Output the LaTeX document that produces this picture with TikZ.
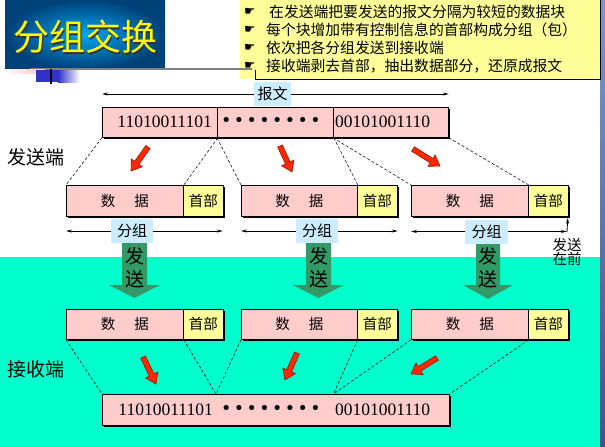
\documentclass[tikz,border=0pt]{standalone}
\usepackage{fontspec}
\newfontfamily\cjk{Noto Sans CJK SC}
\newfontfamily\tms{Liberation Serif}
\newfontfamily\dvs{DejaVu Sans}
\usetikzlibrary{arrows.meta,shadows,calc}

\definecolor{msgpink}{RGB}{255,204,204}
\definecolor{hdryellow}{RGB}{255,255,153}
\definecolor{tealbg}{RGB}{0,255,204}
\definecolor{lblblue}{RGB}{204,236,255}
\definecolor{sendgreen}{RGB}{51,153,102}
\definecolor{arrred}{RGB}{255,40,0}
\definecolor{arrdark}{RGB}{150,20,0}
\definecolor{titleyellow}{RGB}{255,255,0}
\definecolor{noteyellow}{RGB}{255,255,153}
\definecolor{titlein}{RGB}{0,165,240}
\definecolor{titleout}{RGB}{0,65,120}
\definecolor{stripetop}{RGB}{125,150,195}
\definecolor{stripebot}{RGB}{60,85,135}
\definecolor{decoblue}{RGB}{50,50,200}
\definecolor{decopink}{RGB}{255,190,190}

\newcommand\fsz[1]{\fontsize{#1pt}{#1pt}\selectfont}
\newcommand\dotgap{\hspace{2.4pt}}
\newcommand\bitdots{•\dotgap•\dotgap•\dotgap•\dotgap•\dotgap•\dotgap•\dotgap•}

\tikzset{
  boxshadow/.style={drop shadow={shadow xshift=2pt,shadow yshift=-2pt,fill=black,opacity=1}},
  cellbox/.style={draw=black,line width=0.8pt,inner sep=0pt,anchor=north west,boxshadow},
  msgcell/.style={cellbox,fill=msgpink,minimum height=30pt},
  datacell/.style={cellbox,fill=msgpink,font=\cjk\fsz{14.5}},
  hdrcell/.style={cellbox,fill=hdryellow,minimum width=40pt,font=\cjk\fsz{14.5}},
  bits/.style={inner sep=0pt,font=\tms\fsz{17.5}},
  dotrow/.style={inner sep=0pt,font=\dvs\fsz{17.5}},
  tag/.style={fill=lblblue,inner sep=0pt,minimum height=24pt,font=\cjk\fsz{15}},
  side/.style={inner sep=0pt,anchor=west,font=\cjk\fsz{19}},
  note/.style={inner sep=0pt,anchor=west,font=\cjk\fsz{14.8}},
  hand/.style={inner sep=0pt,anchor=west,font=\dvs\fsz{12.5}},
  split/.style={dashed,dash pattern=on 3pt off 2pt,line width=0.6pt,black!90},
  span/.style={line width=0.8pt,-{Stealth[length=6pt,width=3pt]}},
  upmark/.style={line width=0.8pt,-{Stealth[length=6pt,width=3pt]}},
  sendarrow/.style={fill=sendgreen},
  sendtext/.style={inner sep=0pt,align=center,font=\cjk\fontsize{19pt}{23pt}\selectfont},
  pics/redarrow/.style={code={
    \filldraw[fill=arrred,draw=arrdark,line width=0.6pt]
      (0,-2.6) -- (#1-10,-2.6) -- (#1-10,-6.8) -- (#1,0) -- (#1-10,6.8) -- (#1-10,2.6) -- (0,2.6) -- cycle;
  }}
}

\begin{document}
\begin{tikzpicture}[x=1pt,y=-1pt]
\useasboundingbox (0,0) rectangle (605,447);

% background: white upper part, teal lower part, blue stripe at the right edge
\fill[white] (0,0) rectangle (605,447);
\fill[tealbg] (0,257) rectangle (600,447);
\shade[top color=stripetop,bottom color=stripebot] (600,0) rectangle (605,447);

% title block with a shadowed heading
\shade[inner color=titlein,outer color=titleout] (5,0) rectangle (165,69);
\node[text=black!80,font=\cjk\fsz{36},inner sep=0pt] (titleshadow) at (86.5,38.5) {分组交换};
\node[text=titleyellow,font=\cjk\fsz{36},inner sep=0pt] (title) at (85,37) {分组交换};

% summary box
\fill[noteyellow] (240,0) rectangle (600,79);
\draw[line width=1pt] (255,70) -- (255,79.5) -- (600.5,79.5) -- (600.5,0);

% ornaments below the title
\draw[gray,line width=2pt] (30,69) -- (252,69);
\shade[left color=white,right color=decopink] (5,69) rectangle (45,73);
\fill[decoblue] (36,70) rectangle (58,82);
\shade[left color=decoblue,right color=white] (58,70) rectangle (80,82);
\draw[line width=1.3pt] (51,69) -- (51,84);

% summary lines
\node[hand] (h1) at (244,12) {☛};
\node[hand] (h2) at (244,30) {☛};
\node[hand] (h3) at (244,48) {☛};
\node[hand] (h4) at (244,66) {☛};
\node[note] (n1) at (269,12) {在发送端把要发送的报文分隔为较短的数据块};
\node[note] (n2) at (266,30) {每个块增加带有控制信息的首部构成分组（包）};
\node[note] (n3) at (266,48) {依次把各分组发送到接收端};
\node[note] (n4) at (266,66) {接收端剥去首部，抽出数据部分，还原成报文};

% side labels
\node[side] (sender) at (7,157) {发送端};
\node[side] (receiver) at (7,369) {接收端};

% original message
\node[msgcell,minimum width=115pt] (m1) at (102,107) {};
\node[msgcell,minimum width=116pt] (m2) at (217,107) {};
\node[msgcell,minimum width=115pt] (m3) at (333,107) {};
\node[bits,anchor=east] (m1t) at (212,122) {11010011101};
\node[dotrow,anchor=west] (m2t) at (221,122) {\bitdots};
\node[bits,anchor=west] (m3t) at (335,122) {00101001110};

\node[tag,minimum width=37pt] (msglbl) at (272.5,94) {报文};
\draw[span] (msglbl.west) -- (m1.north west |- msglbl.center);
\draw[span] (msglbl.east) -- (m3.north east |- msglbl.center);

% packets on the sending side
\node[datacell,minimum width=117pt,minimum height=31pt] (p1d) at (66,185) {数\hspace{19pt}据};
\node[hdrcell,minimum height=31pt] (p1h) at (183,185) {首部};
\node[datacell,minimum width=116pt,minimum height=31pt] (p2d) at (241,185) {数\hspace{19pt}据};
\node[hdrcell,minimum height=31pt] (p2h) at (357,185) {首部};
\node[datacell,minimum width=117pt,minimum height=31pt] (p3d) at (411,185) {数\hspace{19pt}据};
\node[hdrcell,minimum height=31pt] (p3h) at (528,185) {首部};

% splitting the message
\draw[split] (m1.south west) -- (p1d.north west);
\draw[split] (m1.south east) -- (p1d.north east);
\draw[split] (m2.south west) -- (p2d.north west);
\draw[split] (m2.south east) -- (p2d.north east);
\draw[split] (m3.south west) -- (p3d.north west);
\draw[split] (m3.south east) -- (p3d.north east);

\pic[rotate=-125.3] at (148,147) {redarrow=29.4};
\pic[rotate=-65.2] at (280,146) {redarrow=28.6};
\pic[rotate=-32.2] at (413,149) {redarrow=31.9};

% transmission arrows
\fill[sendarrow] (122,240) -- (147,240) -- (147,285) -- (160,285) -- (134.5,298) -- (109,285) -- (122,285) -- cycle;
\fill[sendarrow] (306,240) -- (331,240) -- (331,285) -- (344,285) -- (318.5,298) -- (293,285) -- (306,285) -- cycle;
\fill[sendarrow] (476,240) -- (500,240) -- (500,285) -- (513,285) -- (488,299) -- (463,285) -- (476,285) -- cycle;
\node[sendtext] (s1) at (134.5,267.5) {发\\送};
\node[sendtext] (s2) at (318.5,267.5) {发\\送};
\node[sendtext] (s3) at (488,267.5) {发\\送};

% packet spans
\node[tag,minimum width=42pt] (g1) at (132,231) {分组};
\node[tag,minimum width=42pt] (g2) at (317,231) {分组};
\node[tag,minimum width=43pt] (g3) at (486.5,231.5) {分组};
\draw[span] (g1.west) -- (p1d.south west |- g1.center);
\draw[span] (g1.east) -- ([xshift=-1pt]p1h.south east |- g1.center);
\draw[span] (g2.west) -- (p2d.south west |- g2.center);
\draw[span] (g2.east) -- (p2h.south east |- g2.center);
\draw[span] (g3.west) -- (p3d.south west |- g3.center);
\draw[span] (g3.east) -- ([xshift=-2pt]p3h.south east |- g3.center);

% header goes first
\coordinate (front) at (567,232);
\draw[upmark] (front) -- ([xshift=-1pt,yshift=-1pt]p3h.south east);
\node[inner sep=0pt,align=center,font=\cjk\fontsize{14.5pt}{14pt}\selectfont] (firstlbl) at (567,252) {发送\\在前};

% packets on the receiving side
\node[datacell,minimum width=117pt,minimum height=30pt] (q1d) at (66,309) {数\hspace{19pt}据};
\node[hdrcell,minimum height=30pt] (q1h) at (183,309) {首部};
\node[datacell,minimum width=116pt,minimum height=30pt] (q2d) at (241,309) {数\hspace{19pt}据};
\node[hdrcell,minimum height=30pt] (q2h) at (357,309) {首部};
\node[datacell,minimum width=117pt,minimum height=30pt] (q3d) at (411,309) {数\hspace{19pt}据};
\node[hdrcell,minimum height=30pt] (q3h) at (528,309) {首部};

% reassembled message
\node[msgcell,minimum width=347pt,minimum height=31pt] (r) at (102,394) {};
\node[bits,anchor=east] (r1t) at (213,410) {11010011101};
\node[dotrow,anchor=west] (r2t) at (221,410) {\bitdots};
\node[bits,anchor=west] (r3t) at (335,410) {00101001110};
\coordinate (j1) at (216,394);
\coordinate (j2) at (333.5,394);

\draw[split] (q1d.south west) -- (r.north west);
\draw[split] (q1d.south east) -- (j1);
\draw[split] (q2d.south west) -- (j1);
\draw[split] (q2d.south east) -- (j2);
\draw[split] (q3d.south west) -- (j2);
\draw[split] (q3d.south east) -- (r.north east);

\pic[rotate=-64.3] at (143,357) {redarrow=30};
\pic[rotate=-114.0] at (297,353) {redarrow=29.5};
\pic[rotate=-148.4] at (437,358) {redarrow=30.5};
\end{tikzpicture}
\end{document}
